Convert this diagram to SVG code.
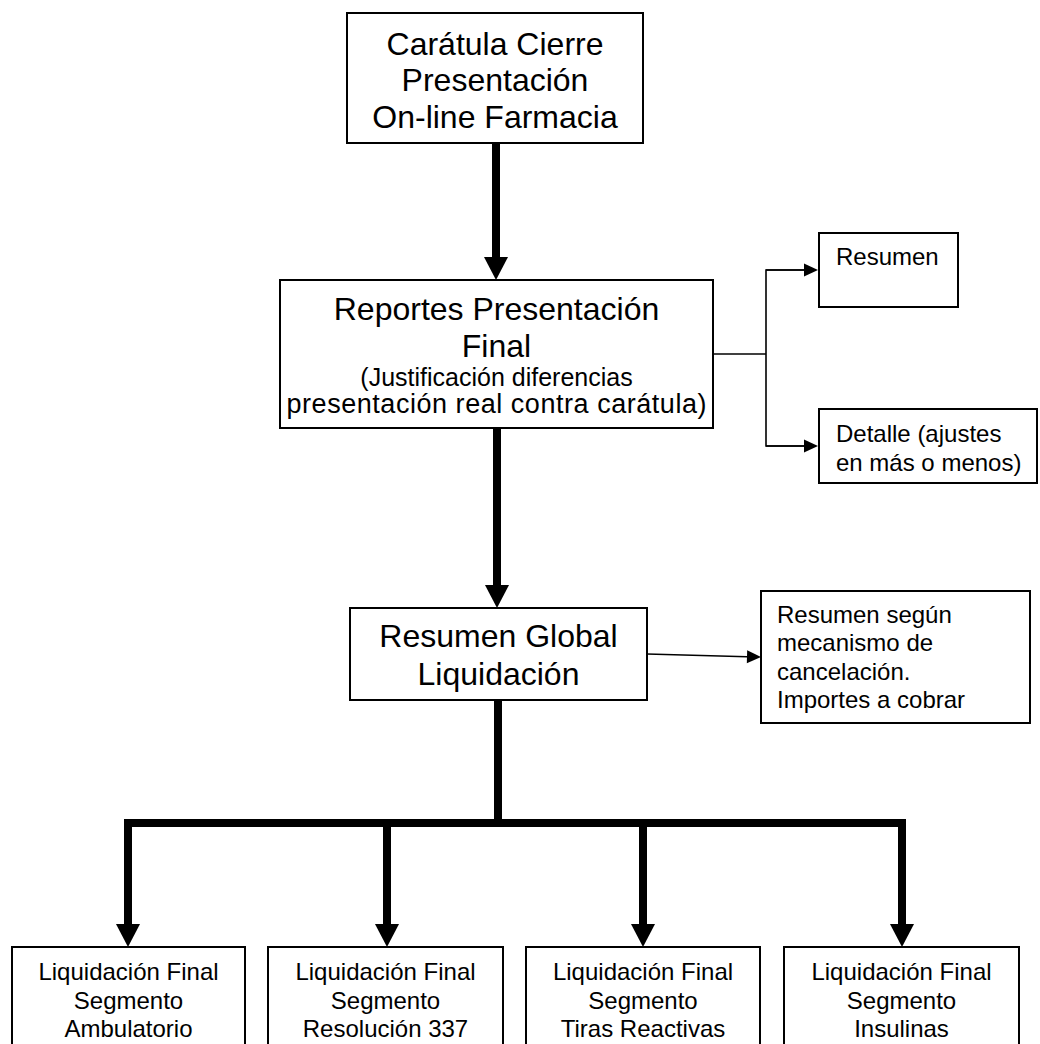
<svg xmlns="http://www.w3.org/2000/svg" width="1040" height="1044" viewBox="0 0 1040 1044">
<style>
.box{fill:#fff;stroke:#000;stroke-width:2}
.t{font-family:"Liberation Sans",Arial,sans-serif;fill:#000}
.big{font-size:32px;text-anchor:middle}
.mid{font-size:25px;text-anchor:middle}
.sm{font-size:24px}
.smc{font-size:24px;text-anchor:middle}
.thick{fill:none;stroke:#000;stroke-width:8;stroke-linecap:square}
.thin{fill:none;stroke:#000;stroke-width:1.6}
</style>
<defs>
<marker id="ah" markerUnits="userSpaceOnUse" markerWidth="24" markerHeight="24" refX="0" refY="12" orient="auto" overflow="visible">
<path d="M0,0 L23,12 L0,24 z" fill="#000"/>
</marker>
<marker id="as" markerUnits="userSpaceOnUse" markerWidth="14" markerHeight="14" refX="0" refY="6.5" orient="auto" overflow="visible">
<path d="M0,0 L14,6.5 L0,13 z" fill="#000"/>
</marker>
</defs>
<rect width="1040" height="1044" fill="#fff"/>
<g id="connectors">
<path class="thick" style="stroke-linecap:butt" d="M496,143 V257" marker-end="url(#ah)"/>
<path class="thick" style="stroke-linecap:butt" d="M497,428 V585" marker-end="url(#ah)"/>
<path class="thick" style="stroke-linecap:butt" d="M498,700 V823"/>
<path class="thick" d="M128,823 H902"/>
<path class="thick" style="stroke-linecap:butt" d="M128,823 V924" marker-end="url(#ah)"/>
<path class="thick" style="stroke-linecap:butt" d="M387,823 V924" marker-end="url(#ah)"/>
<path class="thick" style="stroke-linecap:butt" d="M643,823 V924" marker-end="url(#ah)"/>
<path class="thick" style="stroke-linecap:butt" d="M902,823 V924" marker-end="url(#ah)"/>
<path class="thin" d="M713,354 H766"/>
<path class="thin" d="M804,270 H766 V446 H804"/>
<path class="thin" d="M766,270 H804" marker-end="url(#as)"/>
<path class="thin" d="M766,446 H804" marker-end="url(#as)"/>
<path class="thin" d="M647,654 L747,656.7" marker-end="url(#as)"/>
</g>
<g id="n-caratula">
<rect class="box" x="347" y="13" width="296" height="130"/>
<text class="t big" x="495" y="55">Carátula Cierre</text>
<text class="t big" x="495" y="91">Presentación</text>
<text class="t big" x="495" y="128">On-line Farmacia</text>
</g>
<g id="n-reportes">
<rect class="box" x="280" y="280" width="433" height="148"/>
<text class="t big" x="496.5" y="320">Reportes Presentación</text>
<text class="t big" x="496.5" y="357">Final</text>
<text class="t mid" x="496.5" y="386">(Justificación diferencias</text>
<text class="t mid" x="496.5" y="413" style="font-size:27px" textLength="420">presentación real contra carátula)</text>
</g>
<g id="n-resumen">
<rect class="box" x="819" y="233" width="139" height="74"/>
<text class="t sm" x="836" y="265">Resumen</text>
</g>
<g id="n-detalle">
<rect class="box" x="819" y="409" width="218" height="74"/>
<text class="t sm" x="836" y="442">Detalle (ajustes</text>
<text class="t sm" x="836" y="471">en más o menos)</text>
</g>
<g id="n-global">
<rect class="box" x="350" y="608" width="297" height="92"/>
<text class="t big" x="498.5" y="647">Resumen Global</text>
<text class="t big" x="498.5" y="685">Liquidación</text>
</g>
<g id="n-segun">
<rect class="box" x="761" y="591" width="269" height="132"/>
<text class="t sm" x="777" y="623">Resumen según</text>
<text class="t sm" x="777" y="651">mecanismo de</text>
<text class="t sm" x="777" y="680">cancelación.</text>
<text class="t sm" x="777" y="708">Importes a cobrar</text>
</g>
<g id="n-ambulatorio">
<rect class="box" x="12" y="947" width="233" height="110"/>
<text class="t smc" x="128.5" y="980">Liquidación Final</text>
<text class="t smc" x="128.5" y="1009">Segmento</text>
<text class="t smc" x="128.5" y="1037">Ambulatorio</text>
</g>
<g id="n-resolucion">
<rect class="box" x="268" y="947" width="235" height="110"/>
<text class="t smc" x="385.5" y="980">Liquidación Final</text>
<text class="t smc" x="385.5" y="1009">Segmento</text>
<text class="t smc" x="385.5" y="1037">Resolución 337</text>
</g>
<g id="n-tiras">
<rect class="box" x="526" y="947" width="234" height="110"/>
<text class="t smc" x="643" y="980">Liquidación Final</text>
<text class="t smc" x="643" y="1009">Segmento</text>
<text class="t smc" x="643" y="1037">Tiras Reactivas</text>
</g>
<g id="n-insulinas">
<rect class="box" x="784" y="947" width="235" height="110"/>
<text class="t smc" x="901.5" y="980">Liquidación Final</text>
<text class="t smc" x="901.5" y="1009">Segmento</text>
<text class="t smc" x="901.5" y="1037">Insulinas</text>
</g>
</svg>
